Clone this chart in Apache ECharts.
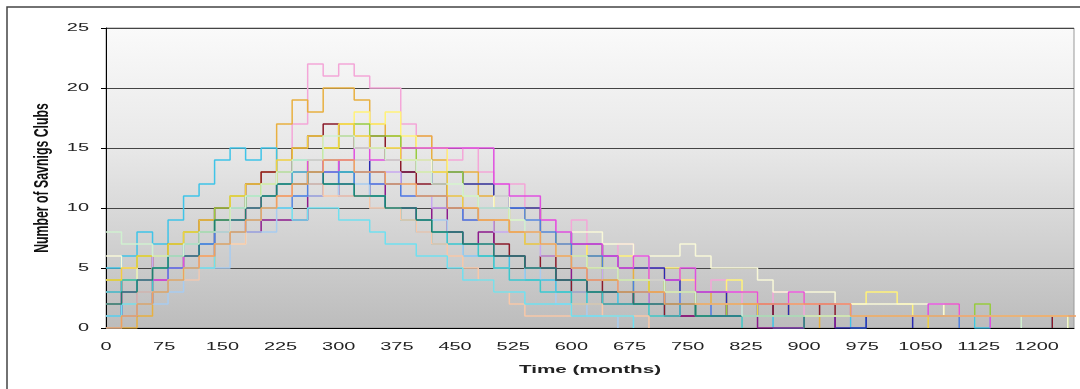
<!DOCTYPE html>
<html>
<head>
<meta charset="utf-8">
<script src="https://cdn.jsdelivr.net/npm/echarts@6/dist/echarts.min.js"></script>
<style>
html, body { margin: 0; background: #fff; }
#box1 { width: 1080px; height: 389px; }
</style>
</head>
<body>
<div id="box1"></div>
<script>
// time axis of every run (months)
var months = [0, 20, 40, 60, 80, 100, 120, 140, 160, 180, 200, 220, 240, 260, 280, 300,
    320, 340, 360, 380, 400, 420, 440, 460, 480, 500, 520, 540, 560, 580, 600, 620,
    640, 660, 680, 700, 720, 740, 760, 780, 800, 820, 840, 860, 880, 900, 920, 940,
    960, 980, 1000, 1020, 1040, 1060, 1080, 1100, 1120, 1140, 1160, 1180, 1200, 1220, 1240, 1260]
var xTicks = [0, 75, 150, 225, 300, 375, 450, 525, 600, 675, 750, 825, 900, 975, 1050, 1125, 1200]
var yTicks = [0, 5, 10, 15, 20, 25]

// number of savings clubs, one array per run
var run01 = [4, 5, 4, 6, 7, 6, 8, 9, 8, 10, 11, 12, 17, 22, 21, 22, 21, 20, 20, 17, 16, 15, 14, 15, 13, 12, 12, 10, 9, 8, 9, 7, 6, 7, 5, 5, 4, 4, 3, 4, 3, 2, 2, 3, 2, 1, 1, 1, 0]
var run02 = [1, 0, 1, 3, 4, 6, 5, 8, 9, 11, 13, 17, 19, 18, 20, 20, 19, 17, 16, 15, 16, 14, 13, 13, 11, 10, 9, 10, 8, 7, 6, 7, 5, 5, 4, 4, 3, 3, 2, 3, 2, 1, 1, 2, 1, 1, 0]
var run03 = [3, 2, 4, 5, 4, 6, 8, 7, 9, 11, 10, 12, 14, 13, 15, 17, 18, 17, 18, 16, 15, 15, 13, 12, 12, 10, 9, 10, 8, 7, 7, 6, 5, 6, 5, 4, 5, 4, 3, 3, 4, 3, 2, 2, 3, 2, 2, 2, 2, 3, 3, 2, 1, 1, 2, 1, 0]
var run04 = [5, 6, 8, 7, 9, 11, 12, 14, 15, 14, 15, 13, 14, 14, 13, 12, 13, 11, 10, 10, 8, 7, 8, 6, 6, 5, 6, 4, 4, 3, 4, 2, 3, 2, 2, 2, 1, 2, 1, 1, 1, 2, 1, 0, 0, 1, 1, 1, 0, 1, 1, 1, 1, 1, 1, 1, 0, 1, 1, 1, 1, 0]
var run05 = [2, 1, 3, 3, 5, 6, 6, 8, 9, 9, 11, 12, 12, 13, 14, 13, 14, 13, 12, 13, 14, 12, 13, 12, 12, 11, 10, 10, 8, 8, 7, 7, 6, 5, 5, 5, 4, 3, 3, 3, 2, 2, 1, 2, 1, 1, 1, 0, 0, 1, 1, 1, 0]
var run06 = [3, 4, 4, 6, 7, 7, 9, 10, 10, 12, 13, 13, 15, 16, 17, 16, 15, 16, 14, 13, 12, 12, 10, 9, 9, 7, 6, 5, 6, 4, 3, 4, 2, 2, 3, 2, 1, 1, 2, 1, 2, 2, 2, 1, 1, 1, 2, 1, 1, 1, 1, 1, 1, 1, 1, 1, 1, 1, 1, 1, 1, 0]
var run07 = [2, 3, 2, 4, 5, 5, 6, 7, 8, 8, 9, 9, 9, 11, 12, 11, 11, 12, 10, 10, 9, 10, 8, 7, 8, 6, 6, 5, 5, 4, 5, 3, 3, 3, 2, 3, 2, 1, 1, 2, 1, 1, 0, 0, 0, 1, 1, 0]
var run08 = [4, 4, 6, 6, 7, 8, 8, 10, 11, 10, 12, 13, 13, 14, 15, 16, 17, 16, 16, 15, 14, 13, 13, 11, 10, 10, 8, 7, 8, 6, 5, 6, 4, 4, 3, 4, 2, 2, 1, 2, 1, 1, 1, 1, 1, 1, 1, 1, 1, 1, 1, 1, 1, 1, 1, 1, 2, 1, 1, 1, 1, 1, 0]
var run09 = [3, 3, 4, 6, 5, 6, 7, 7, 9, 10, 10, 12, 13, 12, 14, 14, 13, 12, 13, 11, 11, 10, 11, 9, 9, 8, 8, 7, 6, 6, 5, 4, 5, 3, 3, 2, 3, 2, 2, 1, 1, 2, 1, 1, 1, 0]
var run10 = [0, 1, 2, 2, 3, 4, 5, 5, 7, 8, 8, 10, 11, 11, 12, 11, 12, 10, 10, 9, 8, 9, 7, 6, 7, 5, 4, 5, 3, 2, 3, 1, 1, 0]
var run11 = [6, 5, 4, 5, 4, 5, 6, 7, 7, 9, 10, 10, 12, 13, 13, 12, 14, 15, 15, 14, 14, 13, 12, 11, 10, 11, 9, 9, 8, 8, 8, 8, 7, 7, 6, 6, 6, 7, 6, 5, 5, 5, 4, 3, 3, 3, 3, 2, 2, 2, 2, 2, 2, 2, 1, 1, 1, 1, 1, 1, 1, 1, 0]
var run12 = [2, 3, 4, 4, 5, 6, 7, 8, 8, 10, 11, 11, 13, 14, 13, 14, 15, 14, 14, 15, 15, 15, 15, 15, 15, 12, 11, 11, 9, 8, 7, 7, 6, 5, 6, 4, 4, 5, 3, 3, 3, 3, 2, 2, 3, 2, 2, 2, 1, 1, 1, 1, 1, 2, 2, 1, 1, 0]
var run13 = [3, 4, 3, 5, 6, 7, 7, 9, 10, 11, 11, 12, 13, 12, 12, 13, 11, 11, 10, 9, 9, 8, 7, 7, 6, 5, 4, 4, 3, 3, 2, 3, 2, 2, 2, 1, 1, 2, 1, 1, 1, 0]
var run14 = [1, 2, 3, 3, 5, 5, 7, 8, 8, 9, 10, 10, 11, 12, 13, 12, 13, 12, 12, 11, 11, 11, 10, 9, 10, 10, 10, 9, 8, 7, 6, 6, 5, 4, 3, 3, 2, 3, 2, 1, 1, 1, 1, 1, 1, 1, 1, 1, 1, 1, 1, 1, 1, 1, 1, 0]
var run15 = [2, 2, 3, 3, 4, 4, 6, 7, 7, 9, 10, 11, 12, 12, 11, 11, 11, 10, 10, 9, 8, 7, 6, 5, 4, 3, 2, 1, 1, 1, 2, 2, 1, 1, 1, 0]
var run16 = [4, 5, 6, 6, 7, 8, 9, 9, 11, 12, 12, 14, 15, 16, 15, 17, 16, 15, 15, 14, 13, 13, 11, 10, 9, 9, 8, 7, 7, 6, 6, 5, 5, 4, 4, 3, 3, 3, 2, 2, 2, 2, 1, 1, 1, 1, 1, 1, 1, 1, 1, 1, 1, 0]
var run17 = [1, 2, 2, 3, 4, 5, 5, 7, 8, 9, 10, 10, 9, 10, 10, 9, 9, 8, 7, 7, 6, 6, 5, 4, 4, 3, 3, 2, 2, 2, 1, 1, 1, 1, 0]
var run18 = [2, 3, 4, 5, 6, 6, 8, 9, 9, 10, 11, 12, 12, 13, 12, 12, 11, 11, 10, 10, 9, 8, 8, 7, 7, 6, 6, 5, 5, 4, 4, 3, 3, 3, 2, 2, 2, 2, 1, 1, 1, 1, 1, 1, 1, 0]
var run19 = [8, 7, 7, 6, 6, 7, 8, 8, 10, 11, 12, 13, 14, 14, 16, 16, 15, 15, 14, 14, 13, 12, 12, 11, 10, 10, 9, 8, 7, 6, 6, 5, 5, 4, 4, 4, 3, 3, 2, 2, 2, 1, 1, 1, 1, 1, 1, 1, 1, 1, 1, 1, 1, 1, 1, 1, 1, 1, 1, 0]
var run20 = [0, 1, 2, 3, 4, 5, 6, 7, 8, 9, 10, 11, 12, 13, 14, 14, 13, 13, 12, 12, 11, 11, 10, 10, 9, 9, 8, 8, 7, 6, 5, 4, 4, 3, 3, 3, 2, 2, 2, 2, 2, 2, 2, 2, 2, 2, 2, 2, 1, 1, 1, 1, 1, 1, 1, 1, 1, 1, 1, 1, 1, 1, 1, 1]

var runs = [run01, run02, run03, run04, run05, run06, run07, run08, run09, run10,
    run11, run12, run13, run14, run15, run16, run17, run18, run19, run20]
var colors = ['#F4A6D8', '#E8B040', '#FFF27A', '#3FC4E8', '#2A2AB0', '#8B1A2A', '#8C1A8C', '#98CC40', '#C8A8F0', '#A8CCF0',
    '#F8F8D8', '#E050E0', '#40C8C8', '#5080E0', '#F8C8A8', '#F0D040', '#70E0F0', '#208070', '#D0F0D0', '#F0A060']

var first = echarts.init(document.getElementById('box1'))

var series = runs.map(function (r, k) {
    return {
        type: 'line',
        step: 'end',
        symbol: 'none',
        lineStyle: { width: 1.5, color: colors[k] },
        data: r.map(function (v, i) { return [months[i], v] })
    }
})

var option = {
    animation: false,
    grid: {
        left: 106, right: 6, top: 28, bottom: 61,
        show: true,
        borderColor: '#999',
        borderWidth: 1,
        backgroundColor: new echarts.graphic.LinearGradient(0, 0, 0, 1, [
            { offset: 0, color: '#FAFAFA' },
            { offset: 0.4, color: '#E8E8E8' },
            { offset: 1, color: '#BCBCBC' }
        ])
    },
    xAxis: {
        type: 'value',
        min: 0,
        max: 1248,
        interval: 75,
        axisLine: { lineStyle: { color: '#000' } },
        axisTick: { show: false },
        axisLabel: { show: false },
        splitLine: { show: false }
    },
    yAxis: {
        type: 'value',
        min: 0,
        max: 25,
        interval: 5,
        axisLine: { show: true, lineStyle: { color: '#000' } },
        axisTick: { show: true, length: 5, lineStyle: { color: '#000' } },
        axisLabel: { show: false },
        splitLine: { lineStyle: { color: '#444' } }
    },
    series: series
}
first.setOption(option)

// the picture is stretched sideways, so the texts are drawn as scaled graphics
var g = [{
    type: 'rect',
    shape: { x: 7, y: 7, width: 1090, height: 400 },
    style: { fill: 'none', stroke: '#444', lineWidth: 1.5 }
}]
xTicks.forEach(function (v) {
    var p = first.convertToPixel({ gridIndex: 0 }, [v, 0])
    g.push({
        type: 'text', x: p[0], y: 347, scaleX: 1.9,
        style: { text: String(v), font: '10.5px "Liberation Sans", Arial', fill: '#222', align: 'center', verticalAlign: 'middle' }
    })
})
yTicks.forEach(function (v) {
    var p = first.convertToPixel({ gridIndex: 0 }, [0, v])
    g.push({
        type: 'text', x: 89, y: p[1], scaleX: 1.9,
        style: { text: String(v), font: '10.5px "Liberation Sans", Arial', fill: '#222', align: 'right', verticalAlign: 'middle' }
    })
})
g.push({
    type: 'text', x: 590, y: 370, scaleX: 1.8,
    style: { text: 'Time (months)', font: 'bold 11.5px "Liberation Sans", Arial', fill: '#222', align: 'center', verticalAlign: 'middle' }
})
g.push({
    type: 'text', x: 42, y: 178, rotation: Math.PI / 2, scaleY: 1.7,
    style: { text: 'Number of Savnigs Clubs', font: 'bold 12.3px "Liberation Sans", Arial', fill: '#111', align: 'center', verticalAlign: 'middle' }
})
first.setOption({ graphic: g })
</script>
</body>
</html>
